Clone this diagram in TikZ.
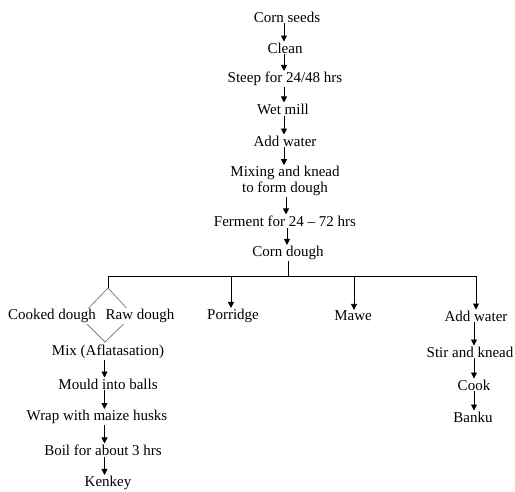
\documentclass[tikz,border=0pt]{standalone}
\usepackage{fontspec}
\setmainfont{Liberation Serif}
\usetikzlibrary{arrows.meta}
\begin{document}
\begin{tikzpicture}[x=1pt,y=-1pt,
  txt/.style={font=\fontsize{15}{15.5}\selectfont, inner sep=1pt, align=center},
  wtxt/.style={txt, fill=white},
  arr/.style={line width=0.9pt, -{Triangle[length=6pt,width=6pt]}},
  ln/.style={line width=0.9pt},
  dia/.style={draw=black!50, line width=0.8pt}]
\useasboundingbox (0,0) rectangle (515,491);
% main column
\node[txt] (cs) at (287,17) {Corn seeds};
\node[txt] (cl) at (285,48) {Clean};
\node[txt] (st) at (285,79) {Steep for 24/48 hrs};
\node[txt] (wm) at (283,109) {Wet mill};
\node[txt] (aw) at (285,141) {Add water};
\node[txt] (mk) at (285,181) {Mixing and knead\\to form dough};
\node[txt] (fe) at (285,221) {Ferment for 24 -- 72 hrs};
\node[txt] (cd) at (288,253) {Corn dough};
\coordinate (cx) at (284,0);
\draw[arr] (cs.south -| cx) -- (cl.north -| cx);
\draw[arr] (cl.south -| cx) -- (st.north -| cx);
\draw[arr] (st.south -| cx) -- (wm.north -| cx);
\draw[arr] (wm.south -| cx) -- (aw.north -| cx);
\draw[arr] (aw.south -| cx) -- (mk.north -| cx);
\draw[arr] ([xshift=2pt]mk.south -| cx) -- ([xshift=2pt]fe.north -| cx);
\draw[arr] ([xshift=3pt]fe.south -| cx) -- ([xshift=3pt]cd.north -| cx);
% branches
\coordinate (j) at (288,276);
\coordinate (bl) at (108,276);
\coordinate (br) at (476,276);
\coordinate (dt) at (108,288);
\coordinate (dr) at (133,315);
\coordinate (db) at (105,342);
\coordinate (dl) at (80,317);
\draw[ln] (cd.south -| j) -- (j);
\draw[ln] (bl) -- (br);
\draw[ln] (bl) -- (dt);
\draw[dia] (dt) -- (dr) -- (db) -- (dl) -- cycle;
\node[wtxt] (cook) at (52,316) {Cooked dough};
\node[wtxt] (raw) at (140,316) {Raw dough};
\node[txt] (por) at (233,316) {Porridge};
\node[txt] (maw) at (353,316) {Mawe};
\node[txt] (aw2) at (476,316) {Add water};
\coordinate (p1) at (231,276);
\coordinate (p2) at (354,276);
\draw[arr] (p1) -- (p1 |- por.north);
\draw[arr] (p2) -- (p2 |- maw.north);
\draw[arr] (br) -- (br |- aw2.north);
% left column
\node[txt] (mix) at (108,352) {Mix (Aflatasation)};
\node[txt] (mb) at (108,384) {Mould into balls};
\node[txt] (wr) at (97,417) {Wrap with maize husks};
\node[txt] (bo) at (103,450) {Boil for about 3 hrs};
\node[txt] (ke) at (108,483) {Kenkey};
\coordinate (lx) at (104.5,0);
\draw[arr] (mix.south -| lx) -- (mb.north -| lx);
\draw[arr] (mb.south -| lx) -- (wr.north -| lx);
\draw[arr] (wr.south -| lx) -- (bo.north -| lx);
\draw[arr] (bo.south -| lx) -- (ke.north -| lx);
% right column
\node[txt] (sk) at (470,352) {Stir and knead};
\node[txt] (ck) at (474,385) {Cook};
\node[txt] (bk) at (473,417) {Banku};
\coordinate (rx) at (474,0);
\draw[arr] (aw2.south -| rx) -- (sk.north -| rx);
\draw[arr] (sk.south -| rx) -- (ck.north -| rx);
\draw[arr] (ck.south -| rx) -- (bk.north -| rx);
\end{tikzpicture}
\end{document}
